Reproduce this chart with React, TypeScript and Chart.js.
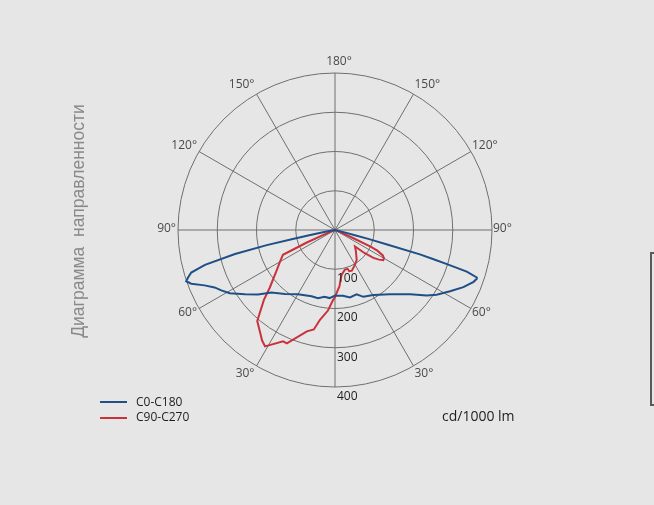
import React, { useEffect, useRef } from "react";
import { Chart, registerables } from "chart.js";

Chart.register(...registerables);

// ---- data (gamma angle in degrees, luminous intensity in cd/1000 lm) ----
const spokeGammas = [180, 150, 120, 90, 60, 30];
const ringValues = [100, 200, 300, 400];
const legendNames = ["C0-C180", "C90-C270"];
const unitLabel = "cd/1000 lm";
const titleText = "Диаграмма  направленности";

// C0 half-plane (right side)
const c0Gamma = [0, 3, 7, 12.5, 18.5, 23, 30.5, 40.5, 49.5, 54.5, 57.5, 62, 66, 69.5, 71, 71.5, 72.5, 73, 73.5, 74, 74.5, 75, 75.5, 76, 77, 78, 90];
const c0Values = [167, 168, 169, 176, 173, 185, 192, 215, 252, 287, 307, 332, 358, 377, 382, 381, 352, 300, 262, 225, 140, 90, 50, 25, 8, 0, 0];

// C180 half-plane (left side)
const c180Gamma = [0, 4.5, 9, 14, 19.5, 30, 38, 45.5, 50, 54.5, 59, 62, 64.5, 67, 69.5, 71, 72, 73.5, 75, 76.5, 77.5, 78, 78.5, 79.5, 81, 90];
const c180Values = [167, 174, 172, 179, 179, 189, 207, 227, 256, 282, 313, 328, 340, 361, 391, 401, 394, 382, 343, 262, 178, 110, 70, 25, 5, 0];

// C90 half-plane (right side)
const c90Gamma = [0, 1.5, 4.5, 6.5, 8.5, 14, 18, 19, 22.5, 30, 36, 44.5, 50.5, 52, 54, 56, 58, 60, 62, 64, 65, 66, 67, 68, 70, 90];
const c90Values = [171, 160, 144, 127, 115, 104, 104, 111, 112, 102, 94, 76, 66, 95, 121, 135, 145, 144, 138, 120, 100, 50, 20, 6, 0, 0];

// C270 half-plane (left side)
const c270Gamma = [0, 1.5, 5, 9.5, 12, 15.5, 23, 25, 31, 33.5, 35, 40.5, 45.5, 48.5, 55.5, 60, 64.5, 66, 67, 68, 70, 90];
const c270Values = [171, 178, 206, 232, 259, 268, 314, 313, 346, 337, 329, 305, 254, 222, 180, 162, 147, 80, 35, 12, 0, 0];

const BLUE = "#1f4f86";
const RED = "#c8323c";
const GRID = "#6f6f6f";
const BG = "#e6e6e6";

const STEPS = 2; // label slots per degree
const SLOTS = 360 * STEPS;
const rightIndex = (g: number) => Math.round((180 - g) * STEPS) % SLOTS;
const leftIndex = (g: number) => Math.round((180 + g) * STEPS) % SLOTS;

function buildSeries(rg: number[], rv: number[], lg: number[], lv: number[]) {
  const out: (number | null)[] = new Array(SLOTS).fill(null);
  rg.forEach((g, i) => { out[rightIndex(g)] = rv[i]; });
  lg.forEach((g, i) => { out[leftIndex(g)] = lv[i]; });
  return out;
}

const slotLabels = Array.from({ length: SLOTS }, (_, i) => {
  const a = i / STEPS;
  return String(Math.abs(180 - a));
});

const polarLabels = {
  id: "polarLabels",
  afterDraw(chart: any) {
    const scale = chart.scales.r;
    const ctx = chart.ctx as CanvasRenderingContext2D;
    const R = scale.drawingArea;
    ctx.save();
    ctx.font = '12px "Open Sans"';
    ctx.fillStyle = "#4a4a4a";
    ctx.textBaseline = "middle";
    spokeGammas.forEach((g) => {
      const idxs = g === 180 ? [0] : [rightIndex(g), leftIndex(g)];
      idxs.forEach((idx) => {
        const p = scale.getPointPosition(idx, R);
        const ux = (p.x - scale.xCenter) / R;
        const uy = (p.y - scale.yCenter) / R;
        const text = g + "°";
        const y = p.y + uy * 10 - 1;
        if (Math.abs(ux) < 0.05) {
          ctx.textAlign = "center";
          ctx.fillText(text, p.x + 4, y);
        } else if (ux > 0) {
          ctx.textAlign = "left";
          ctx.fillText(text, p.x + 1, y);
        } else {
          ctx.textAlign = "right";
          ctx.fillText(text, p.x - 2, y);
        }
      });
    });
    ctx.fillStyle = "#1e1e1e";
    ctx.textAlign = "left";
    ringValues.forEach((v) => {
      const d = scale.getDistanceFromCenterForValue(v);
      ctx.fillText(String(v), scale.xCenter + 2, scale.yCenter + d + 9.5);
    });
    ctx.restore();
  },
};

export default function App() {
  const ref = useRef<HTMLCanvasElement>(null);
  useEffect(() => {
    const canvas = ref.current!;
    const chart = new Chart(canvas, {
      type: "radar",
      data: {
        labels: slotLabels,
        datasets: [
          {
            label: legendNames[0],
            data: buildSeries(c0Gamma, c0Values, c180Gamma, c180Values),
            borderColor: BLUE,
            backgroundColor: "rgba(0,0,0,0)",
            borderWidth: 2,
            fill: false,
            spanGaps: true,
            pointRadius: 0,
            tension: 0,
          },
          {
            label: legendNames[1],
            data: buildSeries(c90Gamma, c90Values, c270Gamma, c270Values),
            borderColor: RED,
            backgroundColor: "rgba(0,0,0,0)",
            borderWidth: 2,
            fill: false,
            spanGaps: true,
            pointRadius: 0,
            tension: 0,
          },
        ],
      } as any,
      options: {
        responsive: false,
        animation: false,
        devicePixelRatio: 1,
        layout: { padding: { left: 178, right: 162, top: 73, bottom: 118 } },
        plugins: { legend: { display: false }, tooltip: { enabled: false } },
        elements: { point: { radius: 0, hoverRadius: 0 }, line: { tension: 0 } },
        scales: {
          r: {
            min: 0,
            max: 400,
            ticks: { display: false, stepSize: 100 },
            grid: { circular: true, color: GRID, lineWidth: 1 },
            angleLines: {
              display: true,
              color: GRID,
              lineWidth: (c: any) => (c.index % (30 * STEPS) === 0 ? 1 : 0),
            },
            pointLabels: { display: false },
          },
        },
      } as any,
      plugins: [polarLabels],
    });
    return () => chart.destroy();
  }, []);

  const font = '"Open Sans", "Noto Sans", sans-serif';
  return (
    <div style={{ position: "absolute", left: 0, top: 0, width: 654, height: 505, background: BG, overflow: "hidden" }}>
      <canvas ref={ref} width={654} height={505} style={{ position: "absolute", left: 0, top: 0 }} />
      <div
        style={{
          position: "absolute", left: 79 - 160, top: 220.5 - 11, width: 320, height: 22, lineHeight: "22px",
          textAlign: "center", transform: "rotate(-90deg)", font: '17.5px "Liberation Sans", Arial, sans-serif',
          color: "#8a8a8a", whiteSpace: "pre",
        }}
      >
        {titleText}
      </div>
      <div style={{ position: "absolute", left: 100, top: 401, width: 27, height: 2, background: BLUE }} />
      <div style={{ position: "absolute", left: 100, top: 416.5, width: 27, height: 2, background: RED }} />
      <div style={{ position: "absolute", left: 136, top: 393, height: 18, lineHeight: "18px", font: "12px " + font, color: "#1e1e1e", whiteSpace: "nowrap" }}>
        {legendNames[0]}
      </div>
      <div style={{ position: "absolute", left: 136, top: 408, height: 18, lineHeight: "18px", font: "12px " + font, color: "#1e1e1e", whiteSpace: "nowrap" }}>
        {legendNames[1]}
      </div>
      <div style={{ position: "absolute", left: 442, top: 406, height: 20, lineHeight: "20px", font: "14px " + font, color: "#1e1e1e", whiteSpace: "nowrap" }}>
        {unitLabel}
      </div>
      <div style={{ position: "absolute", left: 650, top: 252, width: 20, height: 150, border: "2px solid #5a5a5a" }} />
    </div>
  );
}
